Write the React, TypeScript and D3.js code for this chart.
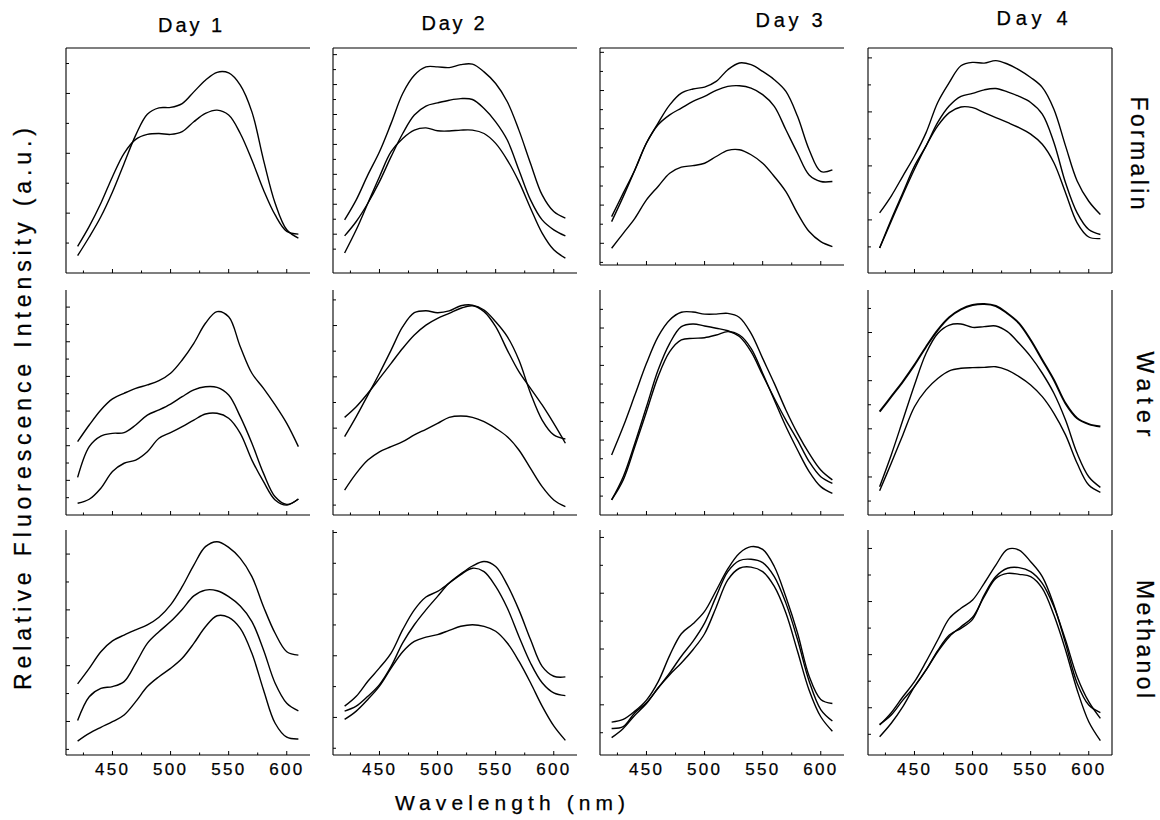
import React from "react";
import * as d3 from "d3";

// ---------- data ----------
const wavelengths = [420, 430, 440, 450, 460, 470, 480, 490, 500, 510, 520, 530, 540, 550, 560, 570, 580, 590, 600, 610];
const dayLabels = ["Day 1", "Day 2", "Day 3", "Day 4"];
const fixativeLabels = ["Formalin", "Water", "Methanol"];
const xTickMajor = [450, 500, 550, 600];
const xTickMinor = [425, 475, 525, 575];

// Formalin (relative intensity, % of panel height)
const formalinDay1 = [
  [7.7, 16, 25, 36, 48.7, 61.3, 70.6, 73.4, 73.6, 75.3, 80.5, 85.7, 89.2, 88.9, 83.5, 71.6, 50.2, 31, 19.2, 15.5],
  [11.8, 20.7, 31, 42.8, 53.2, 59.4, 61.6, 62, 61.6, 62.8, 67.2, 70.9, 72.4, 70.2, 62, 50.2, 36.9, 25.8, 18.5, 17.3],
];
const formalinDay2 = [
  [23.6, 32.5, 43.6, 53.9, 66.5, 79.8, 87.9, 91.6, 91.6, 91.3, 92.6, 92.8, 89.4, 84.2, 76.1, 63.5, 48.7, 34.7, 27.3, 24.4],
  [16.5, 22.9, 31, 40.6, 51.7, 62, 70.2, 74.2, 75.6, 76.8, 77.5, 77.1, 73.1, 67.2, 59.1, 45.8, 32.5, 23.6, 19.2, 16.5],
  [8.9, 19.2, 31, 42.8, 53.9, 59.8, 63.5, 64.5, 63.2, 63.1, 63.5, 63.5, 62, 57.6, 50.2, 40.6, 28.8, 17.7, 10.3, 6.6],
];
const formalinDay3 = [
  [22.3, 33.1, 43.8, 56.2, 65.4, 73.8, 79.2, 81.1, 82, 84.6, 90, 93.1, 92.3, 89.2, 85.4, 80, 68.5, 53.1, 43.1, 43.8],
  [20, 31.5, 43.8, 56.2, 64.6, 69.2, 72.3, 75.4, 77.7, 80.5, 82.3, 82.6, 81.5, 78.5, 73.1, 62.3, 51.5, 41.5, 38.5, 38.5],
  [7.7, 14.6, 21.5, 30, 36.2, 42.3, 45.1, 45.8, 46.9, 50, 52.8, 53.1, 50.8, 46.9, 40.8, 33.8, 23.8, 15.4, 10.8, 8.5],
];
const formalinDay4 = [
  [26.7, 34.2, 43.1, 52, 62.4, 75.8, 84.7, 92.1, 93.6, 93.3, 94.4, 92.9, 90.3, 86.9, 82.5, 72.8, 56.5, 40.9, 31.9, 26],
  [11.1, 23.8, 35.7, 47.5, 56.5, 66.9, 74.3, 78.5, 79.8, 81.4, 82, 80.5, 78.5, 75.8, 70.6, 58, 40.1, 26.7, 19.3, 17.1],
  [11.1, 23, 34.8, 46.1, 56.5, 65.4, 71.3, 73.8, 73.5, 71.3, 69.1, 66.9, 64.6, 61.7, 57.2, 49, 35.7, 22.3, 16, 15.3],
];

// Water
const waterDay1 = [
  [32.6, 40, 46.7, 51.6, 54.1, 56.3, 57.8, 59.7, 63, 68.9, 76.3, 85.2, 90.4, 88.1, 74.8, 63, 56.3, 48.9, 40.7, 30.4],
  [16.7, 30.4, 35.1, 36.3, 36.6, 40, 44.4, 46.7, 49.3, 52.6, 55.6, 57, 56.7, 53.3, 43.7, 31.9, 18.5, 8.1, 4.7, 7.1],
  [5.2, 7, 11.9, 19.3, 23, 24.4, 28.1, 34.1, 36.6, 39.3, 42.2, 44.9, 45.2, 43, 36.3, 24.4, 14.8, 6.7, 4.4, 7.1],
];
const waterDay2 = [
  [43.4, 48.1, 54.1, 60.7, 67.4, 74.1, 80, 84.4, 87.4, 89.6, 91.9, 93, 90.4, 83.7, 73.3, 63.7, 56.3, 48.9, 40.7, 31.9],
  [34.8, 43.7, 53.3, 63, 73.3, 83.7, 89.9, 90.8, 89.9, 90.7, 93, 93.3, 91.1, 85.9, 79.3, 68.9, 54.1, 42.2, 35.6, 33.8],
  [11.1, 18.5, 24.4, 28.1, 30.4, 32.6, 35.6, 38.1, 40.7, 43.4, 44, 43.4, 41.5, 38.5, 34.8, 28.9, 20.7, 12.6, 6.7, 3.7],
];
const waterDay3 = [
  [26.7, 39.3, 53.3, 67.4, 79.3, 86.7, 90.1, 90.2, 89.3, 89.3, 89.6, 87.8, 80.7, 69.6, 58.5, 46.7, 36.3, 27.4, 20, 15.6],
  [6.7, 17, 31.9, 48.1, 64.4, 76.3, 83.7, 84.9, 84, 83, 81.9, 79.3, 72.6, 62.2, 51.9, 42.2, 33.3, 23.7, 17, 14.1],
  [6.7, 15.6, 30.4, 45.9, 61.5, 72.6, 77.8, 78.5, 78.8, 80, 81.5, 80, 74.1, 63, 51.1, 39.3, 28.9, 19.3, 12.6, 9.6],
];
const waterDay4 = [
  [45.9, 52.6, 59.3, 66.7, 74.8, 82.2, 87.9, 91.4, 93.3, 93.8, 92.9, 89.6, 85.2, 77.8, 68.9, 60, 49.6, 43, 40.4, 39.3],
  [12.6, 26.7, 42.2, 57.8, 71.9, 80.7, 84.4, 84.9, 83.4, 83.7, 84, 81.5, 76.3, 70.4, 63, 54.1, 42.2, 27.4, 17, 12.3],
  [10.8, 23, 35.6, 48.1, 55.6, 60.7, 64.1, 65.2, 65.5, 65.6, 65.9, 64.4, 61.5, 57.8, 52.6, 45.2, 35.6, 23, 13.3, 10.1],
];

// Methanol
const methanolDay1 = [
  [31.6, 38.5, 45.9, 50.7, 53.3, 55.6, 57.8, 61.2, 66.7, 74.8, 84.4, 92.6, 94.8, 92.3, 87.4, 79.3, 65.9, 54.1, 45.9, 44.4],
  [15.3, 25.9, 29.6, 30.4, 32.6, 40.7, 49.6, 54.8, 59.3, 64.7, 70.7, 73.3, 73, 70.4, 66.2, 59.3, 46.7, 31.9, 23, 19.6],
  [6.2, 9.6, 12.3, 14.8, 17.8, 23.7, 30.4, 34.8, 38.5, 43, 49.6, 57, 61.9, 61.2, 56.3, 45.2, 28.9, 14.1, 7.9, 7.1],
];
const methanolDay2 = [
  [19.5, 21.7, 26.1, 31.3, 39.4, 49.8, 57.9, 64.5, 70.5, 76.4, 80.5, 84, 86, 83.8, 75.6, 64.5, 51.3, 39.4, 35, 34.7],
  [21.7, 26.1, 32.8, 38.7, 45.3, 55.7, 64.5, 70.2, 72.7, 76.4, 80.2, 83, 81.5, 74.9, 65.3, 52.7, 40.9, 32.1, 27.6, 26.4],
  [15.8, 19.5, 24.7, 30.6, 38.6, 45.9, 50.5, 52.4, 53.5, 55.4, 57.2, 57.9, 57.2, 55, 49.8, 41.7, 32.1, 21.7, 12.9, 6.5],
];
const methanolDay3 = [
  [14.6, 15.8, 19.5, 24.4, 32.5, 44.3, 53.9, 58.3, 63.8, 73.1, 82.7, 89.7, 92.6, 91.4, 83.8, 70.2, 54.2, 35, 24.7, 22.9],
  [11.8, 12.6, 18.8, 23.2, 29.8, 36.5, 43.9, 50.5, 58.6, 70.5, 81.5, 86.4, 87, 85.5, 79.3, 67.5, 51.3, 32.8, 20.2, 15.1],
  [7.7, 11.8, 17.7, 22.9, 29.8, 35.7, 40.9, 46.8, 53.9, 65.7, 77.8, 83, 83.5, 81.5, 74.9, 63.1, 46.1, 28.8, 17, 10.6],
];
const methanolDay4 = [
  [13.3, 18.8, 25.9, 32.6, 41.5, 51.1, 60.7, 65.2, 68.9, 76.3, 84.4, 91.4, 91.1, 85.9, 79.3, 66.7, 49.6, 31.9, 22.2, 18.8],
  [13.6, 17.8, 24.4, 30.4, 37.8, 46.4, 53.3, 56.3, 60.3, 71.1, 79.3, 83, 83.3, 81.5, 76.3, 65.9, 51.1, 34.8, 23.7, 16.3],
  [8.1, 14.1, 21.5, 30.4, 37.8, 45.9, 52.6, 57, 61.2, 70.4, 78.5, 80.7, 80.3, 79.3, 74.1, 62.2, 46.7, 28.9, 14.8, 6.4],
];

const spectra = [
  [formalinDay1, formalinDay2, formalinDay3, formalinDay4],
  [waterDay1, waterDay2, waterDay3, waterDay4],
  [methanolDay1, methanolDay2, methanolDay3, methanolDay4],
];

// y tick placement per panel (first tick, spacing) in % units
const yTickFirst = [
  [13.3, 10.6, 1.2, 11.6],
  [7.7, 4.4, 8.4, 6.2],
  [2.5, 3, 9.9, 9.2],
];
const yTickStep = [
  [13.3, 6.65, 8.8, 12],
  [7.7, 11.4, 8.3, 10.7],
  [12.4, 13.7, 12.4, 11.8],
];

// ---------- layout ----------
const W = 1160;
const H = 820;
const colLeft = [66, 333, 600, 868];
const panelW = 244;
const rowTop = [48, 290, 530];
const panelH = 225;
const FONT = "Arimo, 'Liberation Sans', Arial, Helvetica, sans-serif";
const dayLabelX = [190, 453, 789, 1032];
const dayLabelY = [32, 30, 27, 25];
const dayLabelLen = [64, 63, 67, 71];
const sideLabelX = [1131, 1137, 1137];
const sideLabelY = [153, 394, 639];
const sideLabelLen = [113, 85, 118];
const TEXT_STROKE = 0.25;

function panelHeight(r: number, c: number) {
  if (r === 0 && c === 2) return 217;
  return panelH;
}

function Panel({ r, c }: { r: number; c: number }) {
  const left = colLeft[c];
  const top = rowTop[r];
  const h = panelHeight(r, c);
  const bottom = top + h;
  const x = d3.scaleLinear().domain([410, 620]).range([left, left + panelW]);
  const y = d3.scaleLinear().domain([0, 100]).range([bottom, top]);
  const line = d3
    .line<number>()
    .x((_, i) => x(wavelengths[i]))
    .y((v) => y(v))
    .curve(d3.curveCatmullRom.alpha(0.5));
  const yTicks = d3.range(yTickFirst[r][c], 99.5, yTickStep[r][c]);
  const curves = spectra[r][c];
  return (
    <g>
      <line x1={left} y1={top} x2={left} y2={bottom} stroke="#000" strokeWidth={1.1} />
      <line x1={left} y1={bottom} x2={left + panelW} y2={bottom} stroke="#000" strokeWidth={1.1} />
      {r === 0 && <line x1={left} y1={top} x2={left + panelW} y2={top} stroke="#000" strokeWidth={1.1} />}
      {c === 3 && <line x1={left + panelW} y1={top} x2={left + panelW} y2={bottom} stroke="#000" strokeWidth={1.1} />}
      {yTicks.map((t, i) => (
        <line key={"y" + i} x1={left} x2={left + (i % 2 === 1 ? 4 : 3)} y1={y(t)} y2={y(t)} stroke="#000" strokeWidth={1} />
      ))}
      {xTickMajor.map((t) => (
        <line key={"xM" + t} x1={x(t)} x2={x(t)} y1={bottom} y2={bottom - 4} stroke="#000" strokeWidth={1} />
      ))}
      {xTickMinor.map((t) => (
        <line key={"xm" + t} x1={x(t)} x2={x(t)} y1={bottom} y2={bottom - 2.5} stroke="#000" strokeWidth={1} />
      ))}
      {r === 2 &&
        xTickMajor.map((t) => (
          <text
            key={"xl" + t}
            x={x(t) - 1}
            y={bottom + 20}
            textAnchor="middle"
            fontSize={17}
            fontFamily={FONT}
            stroke="#000"
            strokeWidth={TEXT_STROKE}
            textLength={33}
            lengthAdjust="spacing"
          >
            {t}
          </text>
        ))}
      {curves.map((vals, i) => (
        <path
          key={"c" + i}
          d={line(vals) || ""}
          fill="none"
          stroke="#000"
          strokeWidth={r === 1 && c === 3 && i === 0 ? 2 : 1.4}
          strokeLinejoin="round"
        />
      ))}
    </g>
  );
}

export default function App() {
  return (
    <svg
      width={W}
      height={H}
      viewBox={`0 0 ${W} ${H}`}
      style={{ position: "absolute", left: 0, top: 0, background: "#fff" }}
    >
      <rect x={0} y={0} width={W} height={H} fill="#fff" />
      {fixativeLabels.map((_, r) => dayLabels.map((__, c) => <Panel key={r + "-" + c} r={r} c={c} />))}
      {dayLabels.map((d, c) => (
        <text
          key={d}
          x={dayLabelX[c]}
          y={dayLabelY[c]}
          textAnchor="middle"
          fontSize={20}
          fontFamily={FONT}
          stroke="#000"
          strokeWidth={TEXT_STROKE}
          textLength={dayLabelLen[c]}
          lengthAdjust="spacing"
        >
          {d}
        </text>
      ))}
      {fixativeLabels.map((f, r) => (
        <text
          key={f}
          transform={`translate(${sideLabelX[r]},${sideLabelY[r]}) rotate(90)`}
          textAnchor="middle"
          fontSize={23}
          fontFamily={FONT}
          stroke="#000"
          strokeWidth={TEXT_STROKE}
          textLength={sideLabelLen[r]}
          lengthAdjust="spacing"
        >
          {f}
        </text>
      ))}
      <text
        transform="translate(31,409) rotate(-90)"
        textAnchor="middle"
        fontSize={23}
        fontFamily={FONT}
        stroke="#000"
        strokeWidth={TEXT_STROKE}
        textLength={562}
        lengthAdjust="spacing"
      >
        Relative Fluorescence Intensity (a.u.)
      </text>
      <text
        x={510}
        y={810}
        textAnchor="middle"
        fontSize={21}
        fontFamily={FONT}
        stroke="#000"
        strokeWidth={TEXT_STROKE}
        textLength={230}
        lengthAdjust="spacing"
      >
        Wavelength (nm)
      </text>
    </svg>
  );
}
